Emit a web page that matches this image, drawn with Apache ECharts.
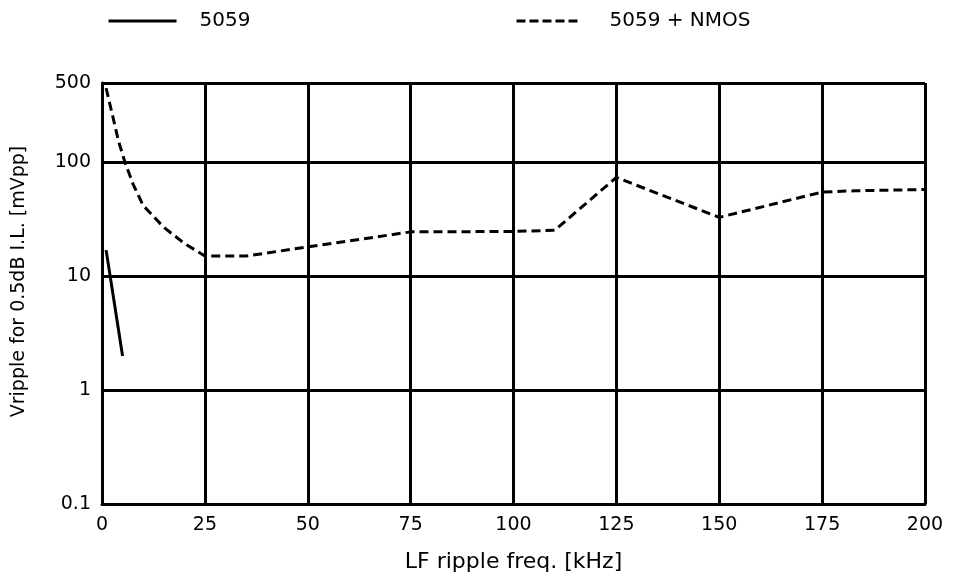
<!DOCTYPE html>
<html>
<head>
<meta charset="utf-8">
<script src="https://cdn.jsdelivr.net/npm/echarts@6/dist/echarts.min.js"></script>
<style>
html,body{margin:0;padding:0;background:#fff;}
#chart{width:953px;height:578px;}
</style>
</head>
<body>
<div id="chart"></div>
<script>
// Data
const freq5059 = [1, 5];
const vals5059 = [17, 2];
const freqNmos = [1, 2.5, 4, 5.6, 7.6, 10, 15, 20, 25, 35, 75, 100, 110, 125, 150, 175, 183, 200];
const valsNmos = [450, 265, 155, 100, 64, 42, 27, 19.5, 15.1, 15.1, 24.6, 24.8, 25.4, 74, 33, 55, 56.5, 58];
const seriesNames = ['5059', '5059 + NMOS'];
const xTitle = 'LF ripple freq. [kHz]';
const yTitle = 'Vripple for 0.5dB I.L. [mVpp]';

const pairs = (xs, ys) => xs.map((x, i) => [x, ys[i]]);
const FONT = 'DejaVu Sans';

const chart = echarts.init(document.getElementById('chart'), null, {renderer: 'canvas'});
chart.setOption({
  animation: false,
  backgroundColor: '#fff',
  textStyle: {fontFamily: FONT, color: '#000'},
  legend: [
    {
      data: [seriesNames[0]], left: 102, top: 6,
      itemWidth: 68, itemHeight: 18,
      textStyle: {fontFamily: FONT, fontSize: 20, color: '#000', padding: [0, 0, 0, 18]},
      itemStyle: {opacity: 0},
      lineStyle: {width: 3, opacity: 1}
    },
    {
      data: [seriesNames[1]], left: 510, top: 6,
      itemWidth: 65, itemHeight: 18,
      textStyle: {fontFamily: FONT, fontSize: 20, color: '#000', padding: [0, 0, 0, 23]},
      itemStyle: {opacity: 0},
      lineStyle: {width: 3, opacity: 1, type: [9, 4]}
    }
  ],
  grid: {left: 102, right: 28, top: 83, bottom: 74, containLabel: false},
  xAxis: {
    type: 'value', min: 0, max: 200, interval: 25,
    name: xTitle, nameLocation: 'middle', nameGap: 47,
    nameTextStyle: {fontFamily: FONT, fontSize: 22, color: '#000'},
    axisLine: {show: true, lineStyle: {color: '#000', width: 3}},
    axisTick: {show: false},
    axisLabel: {fontFamily: FONT, fontSize: 19, color: '#000', margin: 12},
    splitLine: {show: true, lineStyle: {color: '#000', width: 3}}
  },
  yAxis: {
    type: 'log', logBase: 10, min: 0.1, max: 500,
    name: yTitle, nameLocation: 'middle', nameGap: 73,
    nameTextStyle: {fontFamily: FONT, fontSize: 19, color: '#000', padding: [0, 0, 0, 24]},
    axisLine: {show: true, lineStyle: {color: '#000', width: 3}},
    axisTick: {show: false},
    axisLabel: {fontFamily: FONT, fontSize: 19, color: '#000', margin: 11, showMaxLabel: true, showMinLabel: true},
    splitLine: {show: true, lineStyle: {color: '#000', width: 3}}
  },
  series: [
    {
      name: seriesNames[0], type: 'line', data: pairs(freq5059, vals5059),
      symbol: 'none', color: '#000',
      lineStyle: {color: '#000', width: 3, type: 'solid'}
    },
    {
      name: seriesNames[1], type: 'line', data: pairs(freqNmos, valsNmos),
      symbol: 'none', color: '#000',
      lineStyle: {color: '#000', width: 3, type: [9, 5]}
    }
  ]
});
</script>
</body>
</html>
